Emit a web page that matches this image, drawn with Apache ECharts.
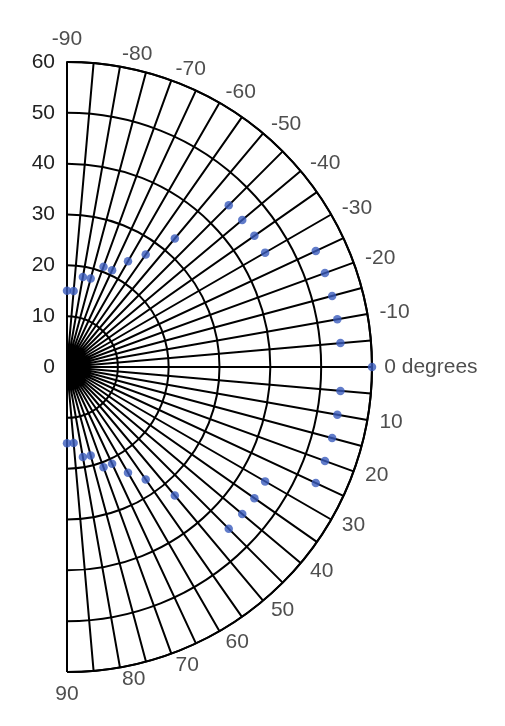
<!DOCTYPE html>
<html>
<head>
<meta charset="utf-8">
<script src="https://cdn.jsdelivr.net/npm/echarts@6/dist/echarts.min.js"></script>
<style>
html,body{margin:0;padding:0;background:#fff;}
#chart{width:505px;height:726px;}
</style>
</head>
<body>
<div id="chart"></div>
<script>
// Angles (degrees) of the sample points, and their radius values
var angles = [-90,-85,-80,-75,-70,-65,-60,-55,-50,-45,-40,-35,-30,-25,-20,-15,-10,-5,0,
              5,10,15,20,25,30,35,40,45,50,55,60,65,70,75,80,85,90];
var radii  = [15,15,18,18,21,21,24,27,33,45,45,45,45,54,54,54,54,54,60,
              54,54,54,54,54,45,45,45,45,33,27,24,21,21,18,18,15,15];
// Tick labels
var radiusTicks = [0,10,20,30,40,50,60];
var angleTickValues = [-90,-80,-70,-60,-50,-40,-30,-20,-10,0,10,20,30,40,50,60,70,80,90];
var angleTickLabels = ['-90','-80','-70','-60','-50','-40','-30','-20','-10','0 degrees',
                       '10','20','30','40','50','60','70','80','90'];

var RMAX = radiusTicks[radiusTicks.length-1];
var LABEL_R = RMAX * 1.04;   // where the angle labels sit, just outside the rim

var points = angles.map(function(a, i){ return [radii[i], a]; });
var labelPoints = angleTickValues.map(function(a, i){
  var edge = (a === -90 || a === 90);
  return {
    value: [LABEL_R, a],
    label: {
      align: edge ? 'center' : 'left',
      verticalAlign: a === -90 ? 'bottom' : (a === 90 ? 'top' : 'middle'),
      formatter: angleTickLabels[i]
    }
  };
});

var chart = echarts.init(document.getElementById('chart'), null, {renderer:'canvas'});
var font = 'Liberation Sans, Arial, Helvetica, sans-serif';
var lineW = 2;
chart.setOption({
  animation: false,
  backgroundColor: '#fff',
  polar: { center: [67, 367], radius: 305 },
  angleAxis: {
    type: 'value',
    min: -90, max: 90, interval: 5,
    startAngle: 90, endAngle: -90, clockwise: true,
    axisLine: { show: true, lineStyle: { color: '#000', width: lineW } },
    axisTick: { show: false },
    axisLabel: { show: false },
    splitLine: { show: true, lineStyle: { color: '#000', width: lineW } }
  },
  radiusAxis: {
    type: 'value',
    min: radiusTicks[0], max: RMAX, interval: 10,
    axisLine: { show: true, lineStyle: { color: '#000', width: lineW } },
    axisTick: { show: false },
    axisLabel: { show: true, margin: 12, fontSize: 21, color: '#222', fontFamily: font },
    splitLine: { show: true, lineStyle: { color: '#000', width: lineW } }
  },
  series: [{
    type: 'scatter',
    coordinateSystem: 'polar',
    data: points,
    symbol: 'circle',
    symbolSize: 8.5,
    itemStyle: { color: '#3a5bbd' },
    z: 5
  }, {
    type: 'scatter',
    coordinateSystem: 'polar',
    data: labelPoints,
    clip: false,
    silent: true,
    symbol: 'circle',
    symbolSize: 1,
    itemStyle: { color: 'rgba(0,0,0,0)' },
    label: {
      show: true, position: 'inside',
      fontSize: 21, color: '#222', fontFamily: font
    },
    emphasis: { disabled: true },
    z: 6
  }]
});
</script>
</body>
</html>
